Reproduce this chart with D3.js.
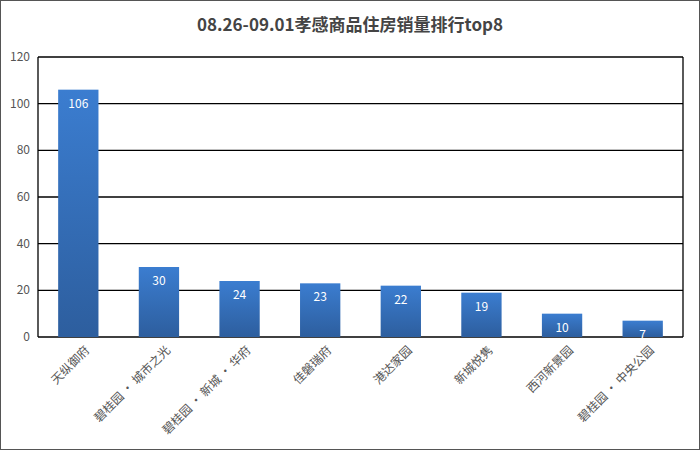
<!DOCTYPE html>
<html><head><meta charset="utf-8">
<script src="https://cdn.jsdelivr.net/npm/d3@7/dist/d3.min.js"></script>
<style>body{margin:0;background:#fff}svg{display:block}</style>
</head><body><svg id="c" width="700" height="450"></svg>
<script>
const categories=["天纵御府","碧桂园 · 城市之光","碧桂园 · 新城 · 华府","佳磐瑞府","港达家园","新城悦隽","西河新景园","碧桂园 · 中央公园"];
const values=[106,30,24,23,22,19,10,7];
const yTicks=[0,20,40,60,80,100,120];
const title="08.26-09.01孝感商品住房销量排行top8";
const svg=d3.select("#c");
const font="'Microsoft YaHei','Noto Sans CJK SC',sans-serif";
svg.append("rect").attr("x",0.5).attr("y",0.5).attr("width",699).attr("height",449).attr("fill","#fff").attr("stroke","#555");
const defs=svg.append("defs");
const g=defs.append("linearGradient").attr("id","bg").attr("x1",0).attr("y1",0).attr("x2",0).attr("y2",1);
g.append("stop").attr("offset","0%").attr("stop-color","#3b7dd0");
g.append("stop").attr("offset","100%").attr("stop-color","#2d5e9e");
const L=38,R=683,T=57,B=337;
const x=d3.scaleBand().domain(categories).range([L,R]).paddingInner(0.5).paddingOuter(0.25);
const y=d3.scaleLinear().domain([0,120]).range([B,T]);
svg.append("text").attr("x",350).attr("y",31).attr("text-anchor","middle").attr("font-family",font).attr("font-weight","bold").attr("font-size",17).attr("fill","#444").text(title);
svg.append("g").selectAll("line").data(yTicks).join("line").attr("x1",L).attr("x2",R).attr("y1",d=>y(d)).attr("y2",d=>y(d)).attr("stroke","#000").attr("stroke-width",1.3);
svg.append("line").attr("x1",L).attr("x2",L).attr("y1",T).attr("y2",B).attr("stroke","#000").attr("stroke-width",1.3);
svg.append("line").attr("x1",R).attr("x2",R).attr("y1",T).attr("y2",B).attr("stroke","#000").attr("stroke-width",1.3);
svg.append("g").selectAll("text").data(yTicks).join("text").attr("x",L-8).attr("y",d=>y(d)+4).attr("text-anchor","end").attr("font-family",font).attr("font-size",12).attr("fill","#555").text(d=>d);
svg.append("g").selectAll("rect").data(values).join("rect").attr("x",(d,i)=>x(categories[i])).attr("width",x.bandwidth()).attr("y",d=>y(d)).attr("height",d=>B-y(d)).attr("fill","url(#bg)");
svg.append("g").selectAll("text").data(values).join("text").attr("x",(d,i)=>x(categories[i])+x.bandwidth()/2).attr("y",d=>y(d)+18).attr("text-anchor","middle").attr("font-family",font).attr("font-size",12).attr("fill","#fff").text(d=>d);
svg.append("g").selectAll("text").data(categories).join("text")
 .attr("transform",d=>`translate(${x(d)+x.bandwidth()/2+12},${B+14}) rotate(-45)`)
 .attr("text-anchor","end").attr("font-family",font).attr("font-size",12).attr("fill","#555").text(d=>d);
</script></body></html>
